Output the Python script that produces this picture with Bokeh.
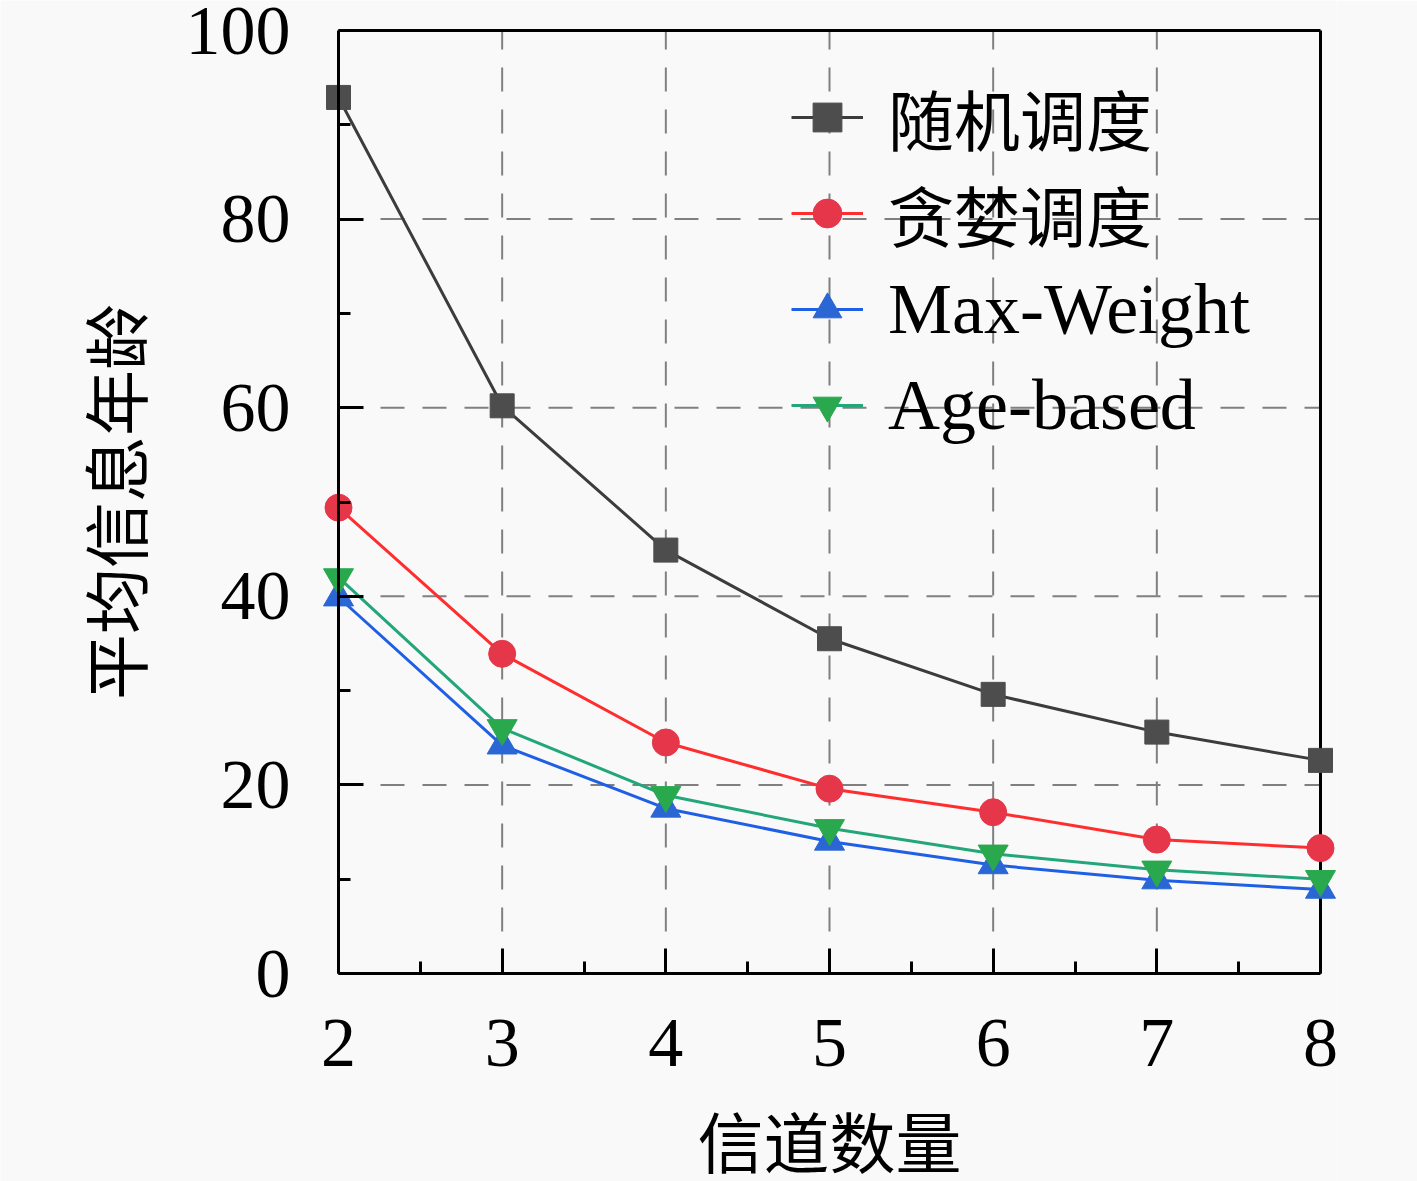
import math
from bokeh.plotting import figure
from bokeh.models import Range1d, FixedTicker, Legend, LegendItem, LinearAxis, Label
from bokeh.embed import file_html
from bokeh.resources import INLINE

channels = [2, 3, 4, 5, 6, 7, 8]
random_sched = [92.9, 60.2, 44.9, 35.5, 29.6, 25.6, 22.6]
greedy_sched = [49.4, 33.9, 24.5, 19.6, 17.1, 14.2, 13.3]
max_weight = [39.9, 24.2, 17.5, 14.0, 11.5, 9.9, 8.9]
age_based = [42.0, 26.0, 18.9, 15.4, 12.7, 11.0, 10.0]

labels = ["随机调度", "贪婪调度", "Max-Weight", "Age-based"]
x_ticks = [2, 3, 4, 5, 6, 7, 8]
x_minor = [2.5, 3.5, 4.5, 5.5, 6.5, 7.5]
y_ticks = [0, 20, 40, 60, 80, 100]
y_minor = [10, 30, 50, 70, 90]
x_title = "信道数量"
y_title = "平均信息年龄"

BG = "#f9f9f9"
SERIF = "Liberation Serif, Noto Sans CJK SC"
CJK = "Noto Sans CJK SC"

xmin, xmax = x_ticks[0], x_ticks[-1]
ymin, ymax = y_ticks[0], y_ticks[-1]

# layout (pixels): the plotting frame covers the labels too, so nothing is clipped
W, H = 1417, 1181
BOX_LEFT, BOX_TOP, BOX_W, BOX_H = 338, 30, 982, 943
PAD_RIGHT_PX = 16
px_per_x = BOX_W / (xmax - xmin)
px_per_y = BOX_H / (ymax - ymin)
below_px = H - BOX_TOP - BOX_H

p = figure(width=W, height=H, output_backend="svg", toolbar_location=None,
           x_range=Range1d(xmin - BOX_LEFT / px_per_x, xmax + PAD_RIGHT_PX / px_per_x),
           y_range=Range1d(ymin - below_px / px_per_y, ymax + BOX_TOP / px_per_y),
           y_axis_location=None,
           min_border_left=0, min_border_top=0,
           min_border_right=W - BOX_LEFT - BOX_W - PAD_RIGHT_PX, min_border_bottom=0,
           background_fill_color=BG, border_fill_color=BG)

p.outline_line_color = None


def style_axis(ax):
    ax.axis_line_width = 3
    ax.axis_line_color = "black"
    ax.major_tick_line_width = 3
    ax.minor_tick_line_width = 3
    ax.major_tick_in = 25
    ax.major_tick_out = 0
    ax.minor_tick_in = 12
    ax.minor_tick_out = 0
    ax.major_label_text_font = SERIF
    ax.major_label_text_font_size = "70px"
    ax.major_label_text_color = "black"
    ax.axis_label_text_font = CJK
    ax.axis_label_text_font_size = "66px"
    ax.axis_label_text_font_style = "normal"
    ax.axis_label_text_color = "black"


# x axis at y = ymin
xa = p.xaxis[0]
style_axis(xa)
xa.ticker = FixedTicker(ticks=x_ticks, minor_ticks=x_minor)
xa.fixed_location = ymin
xa.bounds = (xmin, xmax)
xa.major_label_standoff = 46
xa.axis_label = x_title
xa.axis_label_standoff = 22

# y axis at x = xmin
ya = LinearAxis(fixed_location=xmin, bounds=(ymin, ymax),
                ticker=FixedTicker(ticks=y_ticks, minor_ticks=y_minor))
style_axis(ya)
ya.major_label_standoff = 48
p.add_layout(ya, "left")

p.add_layout(Label(x=xmin, y=(ymin + ymax) / 2, x_units="data", y_units="data",
                   x_offset=-226, text=y_title, angle=math.pi / 2,
                   text_font=CJK, text_font_size="66px", text_color="black",
                   text_align="center", text_baseline="middle"))

# grid (drawn only inside the box)
p.xgrid.visible = False
p.ygrid.visible = False
inner_x = x_ticks[1:-1]
inner_y = y_ticks[1:-1]
p.segment(x0=inner_x, x1=inner_x, y0=[ymin] * len(inner_x), y1=[ymax] * len(inner_x),
          line_color="#808080", line_width=2, line_dash="24 18")
p.segment(x0=[xmin] * len(inner_y), x1=[xmax] * len(inner_y), y0=inner_y, y1=inner_y,
          line_color="#808080", line_width=2, line_dash="24 18")

# top and right frame lines
p.segment(x0=[xmin, xmax], y0=[ymax, ymin], x1=[xmax, xmax], y1=[ymax, ymax],
          line_color="black", line_width=3)

series = [
    (random_sched, "#3c3c3c", "#4d4d4d", "square", 24),
    (greedy_sched, "#ff2d2d", "#e5364a", "circle", 27),
    (max_weight, "#1f5fe6", "#2a66d4", "triangle", 30),
    (age_based, "#22a67a", "#2aa84e", "inverted_triangle", 30),
]

items = []
for (vals, lc, mc, marker, size), lab in zip(series, labels):
    r1 = p.line(channels, vals, line_color=lc, line_width=3)
    r2 = p.scatter(channels, vals, marker=marker, size=size, fill_color=mc, line_color=mc, line_width=1)
    items.append(LegendItem(label=lab, renderers=[r1, r2]))


def make_legend(its, loc, fsize):
    lg = Legend(items=its, location=loc)
    lg.border_line_color = None
    lg.background_fill_alpha = 0
    lg.padding = 0
    lg.margin = 0
    lg.spacing = 0
    lg.glyph_width = 72
    lg.glyph_height = 96
    lg.label_height = 96
    lg.label_standoff = 25
    lg.label_text_font = SERIF
    lg.label_text_font_size = fsize
    lg.label_text_color = "black"
    return lg


# legend locations are measured from the frame's bottom-left corner
leg_x = 791
p.add_layout(make_legend(items[:2], (leg_x, 712 + below_px), "66px"), "center")
p.add_layout(make_legend(items[2:], (leg_x, 520 + below_px), "72px"), "center")

open("out.html", "w").write(file_html(p, INLINE))
